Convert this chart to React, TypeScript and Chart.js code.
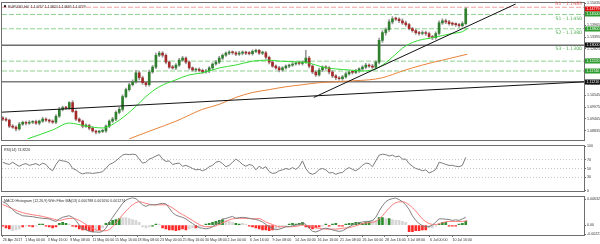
import React, { useEffect, useRef } from "react";
import { Chart, registerables } from "chart.js";

Chart.register(...registerables);

// ---------------- data ----------------
const symbolTitle = "EURUSD,H4  1.14757 1.14824 1.14695 1.14779";
const rsiTitle = "RSI(14) 74.8226";
const macdTitle = "MACD Histogram (12,26,9) With Filter MA(13) 0.000788 0.001050 0.001274";

const firstOpen = 1.0945;
const closes = [
  1.0939, 1.0934, 1.0905, 1.09, 1.0891, 1.0915, 1.0924, 1.0919, 1.0924, 1.0927,
  1.0919, 1.0929, 1.0939, 1.0934, 1.0929, 1.0924, 1.0953, 1.0987, 1.0996, 1.0993,
  1.102, 1.0977, 1.0939, 1.0929, 1.0905, 1.0908, 1.0895, 1.0881, 1.0876, 1.0879,
  1.0881, 1.0905, 1.0929, 1.0939, 1.0972, 1.0987, 1.1049, 1.1083, 1.1107, 1.1121,
  1.1165, 1.1141, 1.1117, 1.1107, 1.1169, 1.1193, 1.1251, 1.1261, 1.1251, 1.1217,
  1.1193, 1.1189, 1.1203, 1.1227, 1.1237, 1.1217, 1.1189, 1.1179, 1.1182, 1.1177,
  1.1169, 1.1174, 1.1189, 1.1208, 1.1217, 1.1237, 1.1251, 1.1261, 1.1265, 1.1263,
  1.1256, 1.1261, 1.1265, 1.1261, 1.1259, 1.127, 1.1275, 1.1261, 1.1263, 1.1241,
  1.1217, 1.1198, 1.1189, 1.1179, 1.1189, 1.1198, 1.1203, 1.1208, 1.1213, 1.1211,
  1.1217, 1.1237, 1.1198, 1.1169, 1.1155, 1.1179, 1.1193, 1.1189, 1.1169, 1.115,
  1.1141, 1.1136, 1.1145, 1.116, 1.1169, 1.1167, 1.1174, 1.1184, 1.1193, 1.1203,
  1.1198, 1.1193, 1.1217, 1.1323, 1.1361, 1.1376, 1.1414, 1.1429, 1.1427, 1.1419,
  1.1409, 1.14, 1.1381, 1.1371, 1.1361, 1.1357, 1.1361, 1.1357, 1.1342, 1.1337,
  1.1357, 1.1409, 1.1419, 1.1414, 1.1405, 1.1403, 1.14, 1.1395, 1.1405, 1.1477,
];
const wickUpPips = [
  6, 8, 5, 7, 6, 9, 5, 6, 8, 5, 7, 6, 9, 6, 5, 7, 8, 10, 7, 6,
  5, 9, 6, 7, 5, 8, 6, 7, 5, 6, 8, 6, 7, 9, 8, 10, 9, 8, 7, 10,
  12, 9, 8, 7, 9, 8, 10, 9, 8, 7, 6, 8, 7, 9, 8, 6, 7, 5, 6, 7,
  6, 8, 7, 6, 9, 8, 7, 6, 8, 7, 6, 9, 7, 6, 8, 7, 6, 5, 8, 7,
  6, 7, 6, 8, 7, 6, 5, 7, 6, 8, 7, 38, 8, 6, 7, 9, 6, 7, 6, 8,
  7, 6, 8, 7, 6, 7, 8, 6, 7, 8, 6, 9, 7, 12, 10, 9, 11, 10, 8, 7,
  9, 8, 7, 6, 8, 7, 9, 8, 7, 6, 8, 10, 9, 8, 7, 8, 6, 7, 9, 6,
];
const wickDownPips = [
  7, 6, 8, 6, 9, 6, 7, 8, 6, 7, 6, 8, 6, 7, 8, 6, 7, 6, 8, 7,
  6, 5, 8, 6, 9, 7, 8, 6, 9, 7, 6, 7, 8, 6, 7, 8, 9, 7, 8, 6,
  7, 10, 9, 8, 7, 6, 8, 7, 9, 8, 7, 6, 8, 7, 6, 8, 7, 6, 9, 8,
  7, 6, 8, 7, 6, 7, 8, 6, 7, 8, 7, 6, 8, 7, 6, 8, 7, 6, 7, 9,
  8, 7, 6, 9, 7, 6, 8, 7, 6, 7, 8, 6, 9, 8, 7, 6, 8, 7, 9, 8,
  9, 7, 8, 6, 7, 8, 6, 7, 6, 8, 7, 6, 9, 8, 10, 12, 9, 10, 8, 9,
  8, 9, 7, 8, 9, 8, 7, 9, 8, 10, 8, 7, 8, 9, 7, 8, 9, 8, 7, 6,
];

const maGreenIdx = [7.5, 15, 20, 25, 30, 32, 35, 40, 43, 47, 52, 56, 60, 65, 70, 75, 80, 83, 90, 92, 96, 100, 104, 108, 111, 114, 118, 120, 123, 126, 128, 132, 135, 138, 139.5];
const maGreenVal = [1.0843, 1.0886, 1.092, 1.0905, 1.0896, 1.0905, 1.0934, 1.1001, 1.1049, 1.1097, 1.1131, 1.1155, 1.1165, 1.1189, 1.1203, 1.1222, 1.1227, 1.1222, 1.1217, 1.1213, 1.1193, 1.1184, 1.1179, 1.1174, 1.1179, 1.1203, 1.1256, 1.1285, 1.1313, 1.1328, 1.1333, 1.1347, 1.1357, 1.1366, 1.1381];
const maOrangeIdx = [38, 45, 52, 60, 65, 70, 75, 80, 85, 90, 95, 100, 105, 110, 114, 120, 126, 132, 139.5];
const maOrangeVal = [1.0843, 1.0886, 1.0929, 1.0987, 1.1011, 1.1045, 1.1069, 1.1083, 1.1097, 1.1107, 1.1117, 1.1121, 1.1126, 1.1131, 1.1141, 1.1174, 1.1203, 1.1227, 1.1256];

const trendLong = [{ x: -0.2, y: 1.0973 }, { x: 174.5, y: 1.1121 }];
const trendShort = [{ x: 93.4, y: 1.1045 }, { x: 154, y: 1.1501 }];

const pivotValues = [1.1485, 1.145, 1.138, 1.13];
const pivotTexts = ["R1 - 1.1485", "S1 - 1.1450", "S2 - 1.1380", "S3 - 1.1300"];
const extraGreenLevels = [1.1222, 1.1174];
const grayLevel = 1.1121;

const tagValues = [1.1477, 1.145, 1.138, 1.13, 1.1222, 1.1174, 1.1121];
const tagTexts = ["1.14779", "1.14500", "1.13800", "1.13000", "1.12220", "1.11740", "1.11210"];

const priceTicks = [1.08835, 1.09405, 1.09975, 1.10545, 1.11115, 1.11685, 1.12255, 1.12825, 1.13395, 1.13965, 1.14535, 1.15035];

const rsi = [
  64, 61, 59, 64, 59, 55, 59, 61, 57, 59, 61, 57, 62, 59, 50, 45, 59, 69, 67, 66,
  62, 50, 47, 41, 38, 40, 40, 39, 40, 41, 43, 50, 59, 62, 67, 74, 80, 82, 81, 82,
  81, 71, 62, 64, 71, 74, 78, 81, 71, 66, 67, 59, 61, 62, 55, 57, 54, 50, 47, 48,
  45, 48, 54, 57, 64, 66, 61, 54, 57, 64, 71, 66, 59, 55, 59, 57, 47, 55, 50, 54,
  43, 39, 40, 45, 47, 50, 48, 52, 48, 54, 67, 50, 40, 37, 40, 48, 50, 47, 40, 41,
  37, 40, 41, 48, 52, 48, 45, 50, 57, 62, 61, 54, 67, 80, 82, 81, 78, 80, 76, 78,
  71, 71, 61, 55, 50, 48, 45, 47, 40, 43, 48, 64, 62, 59, 57, 57, 55, 54, 57, 75,
];
const rsiLevels = [30, 50, 70];
const rsiTicks = [0, 30, 50, 70, 100];

const macd = [
  0.00569, 0.0053, 0.00455, 0.0038, 0.00303, 0.00266, 0.00228, 0.00221, 0.00212, 0.00205,
  0.00189, 0.00177, 0.00166, 0.00159, 0.00152, 0.00114, 0.00091, 0.00152, 0.00189, 0.00212,
  0.00228, 0.00189, 0.00114, 0.0, -0.00075, -0.00114, -0.00152, -0.00166, -0.00166, -0.00175,
  -0.00152, -0.00075, 0.00075, 0.00189, 0.00303, 0.00416, 0.0053, 0.00607, 0.00644, 0.00666,
  0.00644, 0.00569, 0.00494, 0.00455, 0.00494, 0.00494, 0.00494, 0.00516, 0.0053, 0.00516,
  0.00416, 0.00303, 0.00243, 0.00212, 0.00189, 0.00152, 0.00091, 0.00039, -0.00016, -0.00061,
  -0.00075, -0.00091, -0.00075, -0.00039, 0.00016, 0.00075, 0.00152, 0.00159, 0.00189, 0.00212,
  0.00166, 0.00182, 0.00189, 0.00182, 0.00166, 0.00152, 0.00137, 0.00114, 0.00075, 0.00016,
  -0.00039, -0.00075, -0.00114, -0.00098, -0.00075, -0.00039, -0.00039, -0.00016, 0.0, 0.00016,
  0.00061, 0.00016, -0.00075, -0.00152, -0.00166, -0.00137, -0.00091, -0.00075, -0.00091, -0.00114,
  -0.00137, -0.00152, -0.00137, -0.00091, -0.00039, 0.0, 0.00039, 0.00061, 0.00075, 0.00091,
  0.00091, 0.00114, 0.00189, 0.00341, 0.00471, 0.00569, 0.00621, 0.00644, 0.0066, 0.00621,
  0.00569, 0.00494, 0.0038, 0.00228, 0.00114, 0.00039, -0.00016, -0.00039, -0.00039, 0.0,
  0.00075, 0.00152, 0.00152, 0.00143, 0.00137, 0.00114, 0.0013, 0.00114, 0.00152, 0.00189,
];
const signalIdx = [0, 6, 12, 15, 17, 19, 21, 23, 25, 27, 29, 31, 33, 35, 37, 39, 41, 43, 45, 47, 49, 51, 53, 55, 57, 59, 61, 63, 65, 67, 69, 71, 73, 75, 77, 79, 81, 83, 85, 87, 89, 90, 92, 94, 96, 98, 100, 102, 104, 106, 108, 110, 112, 114, 116, 118, 120, 122, 124, 126, 128, 130, 132, 134, 136, 138, 139.5];
const signalVal = [
  0.00501, 0.00303, 0.00212, 0.00152, 0.00114, 0.00152, 0.00166, 0.00114, 0.00016, -0.00075,
  -0.00137, -0.00137, -0.00039, 0.00152, 0.00341, 0.00494, 0.00569, 0.0053, 0.00494, 0.00494,
  0.00494, 0.00416, 0.00303, 0.00212, 0.00114, 0.00016, -0.00039, -0.00039, 0.00016, 0.00091,
  0.00152, 0.00166, 0.00166, 0.00152, 0.00159, 0.00075, 0.00016, -0.00039, -0.00039, -0.00039,
  -0.00016, 0.0, -0.00016, -0.00061, -0.00091, -0.00098, -0.00098, -0.00075, -0.00061, -0.00016,
  0.00039, 0.00061, 0.00091, 0.00228, 0.00416, 0.00546, 0.00569, 0.00494, 0.00341, 0.00152,
  0.00039, 0.00016, 0.00061, 0.00091, 0.00091, 0.00091, 0.00114,
];
const histogram = [
  -0.00023, -0.00068, -0.00091, -0.00137, -0.00114, -0.00091, -0.00046, -0.00023, -0.00023, -0.00046,
  -0.00023, 0.00023, 0.00023, -0.00023, -0.00046, -0.00068, -0.00046, 0.00046, 0.00068, 0.00046,
  0.00023, -0.00023, -0.00046, -0.00091, -0.00114, -0.00114, -0.00137, -0.00159, -0.00137, -0.00114,
  -0.00068, 0.00046, 0.00068, 0.00114, 0.00137, 0.00159, 0.00182, 0.00182, 0.00159, 0.00137,
  0.00114, 0.00068, -0.00046, -0.00068, -0.00046, -0.00023, 0.00023, 0.00023, -0.00068, -0.00091,
  -0.00114, -0.00114, -0.00137, -0.00114, -0.00091, -0.00114, -0.00091, -0.00068, -0.00068, -0.00046,
  -0.00023, 0.00023, 0.00046, 0.00068, 0.00091, 0.00114, 0.00137, 0.00114, 0.00091, 0.00068,
  0.00046, 0.00023, 0.00046, 0.00023, -0.00023, -0.00046, -0.00068, -0.00091, -0.00114, -0.00114,
  -0.00137, -0.00114, -0.00091, -0.00068, -0.00046, -0.00023, 0.00023, 0.00046, 0.00023, 0.00046,
  0.00068, -0.00046, -0.00068, -0.00091, -0.00068, -0.00046, -0.00023, 0.00023, -0.00023, 0.00023,
  0.00046, -0.00023, -0.00023, 0.00023, 0.00046, 0.00046, 0.00068, 0.00068, 0.00046, 0.00068,
  0.00091, 0.00114, 0.00114, 0.00182, 0.00182, 0.00159, 0.00159, 0.00137, 0.00114, 0.00114,
  0.00091, 0.00068, -0.00159, -0.00159, -0.00137, -0.00137, -0.00114, -0.00114, -0.00068, -0.00068,
  -0.00023, 0.00023, 0.00068, 0.00068, -0.00023, -0.00023, -0.00023, 0.00023, 0.00046, 0.00091,
];
// u = rising (green), d = falling (red), n = filtered (grey)
const histState =
  "dddnnndndd" + "nuudddduuu" + "ndddddddnd" + "nuuuuunnnn" + "nnnnnuundd" +
  "ddddddnndn" + "nuuuuuunnn" + "uunndddddd" + "ddnnnnuuuu" + "udddddnudu" +
  "udduuuuuuu" + "unnuununnn" + "nnddddddnn" + "nuuuddduuu";
const macdTicks = [0.006324, 0, -0.002233];

const xLabels = [
  "26 Apr 2017", "1 May 00:00", "3 May 16:00", "8 May 08:00", "11 May 00:00", "15 May 16:00",
  "18 May 08:00", "23 May 00:00", "25 May 16:00", "30 May 08:00", "2 Jun 00:00", "6 Jun 16:00",
  "9 Jun 08:00", "14 Jun 00:00", "16 Jun 16:00", "21 Jun 08:00", "26 Jun 00:00", "28 Jun 16:00",
  "3 Jul 08:00", "6 Jul 00:00", "10 Jul 16:00",
];

// ---------------- layout / style ----------------
const FONT = "'DejaVu Sans', sans-serif";
const NARROW = "'Liberation Sans Narrow', 'Liberation Sans', sans-serif";
const X_MIN = -0.2;
const X_MAX = 174.5;
const LABEL_STEP = 6.75;
const PRICE_MIN = 1.0838;
const PRICE_MAX = 1.1505;
const BULL = "#2f7f2f";
const BEAR = "#a52a2a";
const WICK = "#9a9a9a";
const LEVEL_GREEN = "#8fd08f";
const TEXT_GREEN = "#4caf50";
const AXIS = "#6e6e6e";

const opens = closes.map((_, i) => (i === 0 ? firstOpen : closes[i - 1]));
const highs = closes.map((c, i) => Math.max(c, opens[i]) + wickUpPips[i] * 0.0001);
const lows = closes.map((c, i) => Math.min(c, opens[i]) - wickDownPips[i] * 0.0001);

const hLine = (v: number) => [{ x: X_MIN, y: v }, { x: X_MAX, y: v }];

const baseX = (display: boolean): any => ({
  type: "linear",
  min: X_MIN,
  max: X_MAX,
  offset: false,
  display,
  grid: { offset: false, drawOnChartArea: false, drawTicks: true, tickLength: 2, color: AXIS },
  border: { display: true, color: AXIS },
});

const rightAxis = (min: number, max: number, ticks: number[], fmt: (v: number) => string): any => ({
  type: "linear",
  position: "right",
  min,
  max,
  afterFit: (s: any) => {
    s.width = 16;
  },
  afterBuildTicks: (s: any) => {
    s.ticks = ticks.map((v) => ({ value: v }));
  },
  ticks: {
    font: { size: 3.6, family: NARROW },
    color: "#333",
    padding: 1,
    autoSkip: false,
    callback: (v: any) => fmt(Number(v)),
  },
  grid: { drawOnChartArea: false, drawTicks: true, tickLength: 2, color: AXIS },
  border: { display: true, color: AXIS },
});

const panelBorder = {
  id: "panelBorder",
  afterDraw(chart: any) {
    const { ctx, chartArea: a } = chart;
    ctx.save();
    ctx.strokeStyle = AXIS;
    ctx.lineWidth = 1;
    ctx.strokeRect(Math.round(a.left) - 0.5, Math.round(a.top) - 0.5, Math.round(a.right - a.left) + 1, Math.round(a.bottom - a.top) + 1);
    ctx.restore();
  },
};

const titlePlugin = (text: string, withBox: boolean) => ({
  id: "title_" + text.length,
  afterDraw(chart: any) {
    const { ctx, chartArea: a } = chart;
    ctx.save();
    let x = a.left + 2;
    if (withBox) {
      ctx.fillStyle = "#222";
      ctx.fillRect(x, a.top + 2, 2, 2);
      x += 4;
    }
    ctx.fillStyle = "#333";
    ctx.font = `3.6px ${NARROW}`;
    ctx.textBaseline = "middle";
    ctx.textAlign = "left";
    ctx.fillText(text, x, a.top + 3.5);
    ctx.restore();
  },
});

const priceOverlay = {
  id: "priceOverlay",
  afterDraw(chart: any) {
    const { ctx, chartArea: a } = chart;
    const y = chart.scales.y;
    ctx.save();
    ctx.font = `4.6px ${FONT}`;
    ctx.textAlign = "right";
    ctx.textBaseline = "middle";
    pivotValues.forEach((v, i) => {
      const py = y.getPixelForValue(v);
      ctx.fillStyle = i === 0 ? "#e05a5a" : TEXT_GREEN;
      ctx.fillText(pivotTexts[i], a.right - 2, i === 0 ? py - 3 : py + 4);
    });
    ctx.font = `3.6px ${NARROW}`;
    ctx.textAlign = "left";
    tagValues.forEach((v, i) => {
      const py = Math.round(y.getPixelForValue(v));
      const col = i === 0 ? "#e01010" : v === 1.13 || v === grayLevel ? "#111" : "#2e9b2e";
      ctx.fillStyle = col;
      ctx.fillRect(a.right + 1, py - 2.5, 15, 5);
      ctx.fillStyle = "#fff";
      ctx.fillText(tagTexts[i], a.right + 2.5, py);
    });
    ctx.restore();
  },
};

function makePriceChart(canvas: HTMLCanvasElement) {
  const datasets: any[] = [];
  pivotValues.forEach((v, i) => {
    datasets.push({
      type: "line",
      data: hLine(v),
      borderColor: i === 0 ? "#f2a0a0" : i === 3 ? "#222" : LEVEL_GREEN,
      borderWidth: 1,
      borderDash: i === 3 ? [] : [5, 2],
      pointRadius: 0,
      order: 10,
    });
  });
  extraGreenLevels.forEach((v) => {
    datasets.push({ type: "line", data: hLine(v), borderColor: LEVEL_GREEN, borderWidth: 1, borderDash: [5, 2], pointRadius: 0, order: 10 });
  });
  datasets.push({ type: "line", data: hLine(grayLevel), borderColor: "#7d7d7d", borderWidth: 1.5, pointRadius: 0, order: 10 });
  datasets.push({
    type: "bar",
    data: closes.map((_, i) => ({ x: i, y: [lows[i], highs[i]] })),
    backgroundColor: WICK,
    barThickness: 1,
    grouped: false,
    order: 5,
  });
  datasets.push({
    type: "bar",
    data: closes.map((c, i) => ({ x: i, y: [opens[i], c] })),
    backgroundColor: closes.map((c, i) => (c >= opens[i] ? BULL : BEAR)),
    barThickness: 2,
    minBarLength: 1,
    grouped: false,
    order: 4,
  });
  datasets.push({
    type: "line",
    data: maOrangeIdx.map((x, i) => ({ x, y: maOrangeVal[i] })),
    borderColor: "#e8843c",
    borderWidth: 1,
    pointRadius: 0,
    cubicInterpolationMode: "monotone",
    order: 2,
  });
  datasets.push({
    type: "line",
    data: maGreenIdx.map((x, i) => ({ x, y: maGreenVal[i] })),
    borderColor: "#33dd33",
    borderWidth: 1,
    pointRadius: 0,
    cubicInterpolationMode: "monotone",
    order: 2,
  });
  datasets.push({ type: "line", data: trendLong, borderColor: "#111", borderWidth: 1, pointRadius: 0, order: 1 });
  datasets.push({ type: "line", data: trendShort, borderColor: "#111", borderWidth: 1, pointRadius: 0, order: 1 });

  return new Chart(canvas, {
    type: "bar",
    data: { datasets },
    options: {
      animation: false,
      responsive: false,
      events: [],
      layout: { padding: { left: 2, top: 2, right: 0, bottom: 2 } },
      plugins: { legend: { display: false }, tooltip: { enabled: false } },
      scales: {
        x: baseX(false),
        y: rightAxis(PRICE_MIN, PRICE_MAX, priceTicks, (v) => v.toFixed(5)),
      },
    } as any,
    plugins: [panelBorder, priceOverlay, titlePlugin(symbolTitle, true)],
  } as any);
}

function makeRsiChart(canvas: HTMLCanvasElement) {
  const datasets: any[] = rsiLevels.map((v) => ({
    type: "line",
    data: hLine(v),
    borderColor: "#c4c4c4",
    borderWidth: 1,
    borderDash: [1, 2],
    pointRadius: 0,
    order: 5,
  }));
  datasets.push({
    type: "line",
    data: rsi.map((v, i) => ({ x: i, y: v })),
    borderColor: "#7c7c7c",
    borderWidth: 1,
    pointRadius: 0,
    order: 1,
  });
  return new Chart(canvas, {
    type: "line",
    data: { datasets },
    options: {
      animation: false,
      responsive: false,
      events: [],
      layout: { padding: { left: 2, top: 1, right: 0, bottom: 1 } },
      plugins: { legend: { display: false }, tooltip: { enabled: false } },
      scales: {
        x: baseX(false),
        y: rightAxis(0, 100, rsiTicks, (v) => String(v)),
      },
    } as any,
    plugins: [panelBorder, titlePlugin(rsiTitle, false)],
  } as any);
}

const histColor = (c: string) => (c === "u" ? "#2e8b2e" : c === "d" ? "#ff2a2a" : "#d6d6d6");

function makeMacdChart(canvas: HTMLCanvasElement) {
  const xAxis = baseX(true);
  xAxis.afterFit = (s: any) => {
    s.height = 9;
  };
  xAxis.afterBuildTicks = (s: any) => {
    s.ticks = xLabels.map((_, k) => ({ value: k * LABEL_STEP }));
  };
  xAxis.ticks = {
    font: { size: 3.6, family: NARROW },
    color: "#333",
    padding: 1,
    align: "start",
    maxRotation: 0,
    autoSkip: false,
    callback: (_v: any, idx: number) => xLabels[idx],
  };
  return new Chart(canvas, {
    type: "bar",
    data: {
      datasets: [
        {
          type: "bar",
          data: histogram.map((v, i) => ({ x: i, y: v })),
          backgroundColor: histogram.map((_, i) => histColor(histState[i])),
          barThickness: 2,
          grouped: false,
          order: 5,
        },
        {
          type: "line",
          data: signalIdx.map((x, i) => ({ x, y: signalVal[i] })),
          borderColor: "#ff7b7b",
          borderWidth: 1,
          pointRadius: 0,
          cubicInterpolationMode: "monotone",
          order: 2,
        },
        {
          type: "line",
          data: macd.map((v, i) => ({ x: i, y: v })),
          borderColor: "#808080",
          borderWidth: 1,
          pointRadius: 0,
          order: 1,
        },
      ],
    },
    options: {
      animation: false,
      responsive: false,
      events: [],
      layout: { padding: { left: 2, top: 1, right: 0, bottom: 0 } },
      plugins: { legend: { display: false }, tooltip: { enabled: false } },
      scales: {
        x: xAxis,
        y: rightAxis(-0.0024, 0.0068, macdTicks, (v) => (v === 0 ? "0.00" : v.toFixed(6))),
      },
    } as any,
    plugins: [panelBorder, titlePlugin(macdTitle, false)],
  } as any);
}

export default function App() {
  const priceRef = useRef<HTMLCanvasElement>(null);
  const rsiRef = useRef<HTMLCanvasElement>(null);
  const macdRef = useRef<HTMLCanvasElement>(null);

  useEffect(() => {
    const charts: Chart[] = [];
    if (priceRef.current) charts.push(makePriceChart(priceRef.current));
    if (rsiRef.current) charts.push(makeRsiChart(rsiRef.current));
    if (macdRef.current) charts.push(makeMacdChart(macdRef.current));
    return () => charts.forEach((c) => c.destroy());
  }, []);

  const cv = (top: number, h: number): React.CSSProperties => ({
    position: "absolute",
    left: 0,
    top,
    width: 600,
    height: h,
  });

  return (
    <div style={{ position: "absolute", left: 0, top: 0, width: 600, height: 244, background: "#fff", overflow: "hidden" }}>
      <canvas ref={priceRef} width={600} height={143} style={cv(0, 143)} />
      <canvas ref={rsiRef} width={600} height={51} style={cv(143, 51)} />
      <canvas ref={macdRef} width={600} height={50} style={cv(194, 50)} />
    </div>
  );
}
